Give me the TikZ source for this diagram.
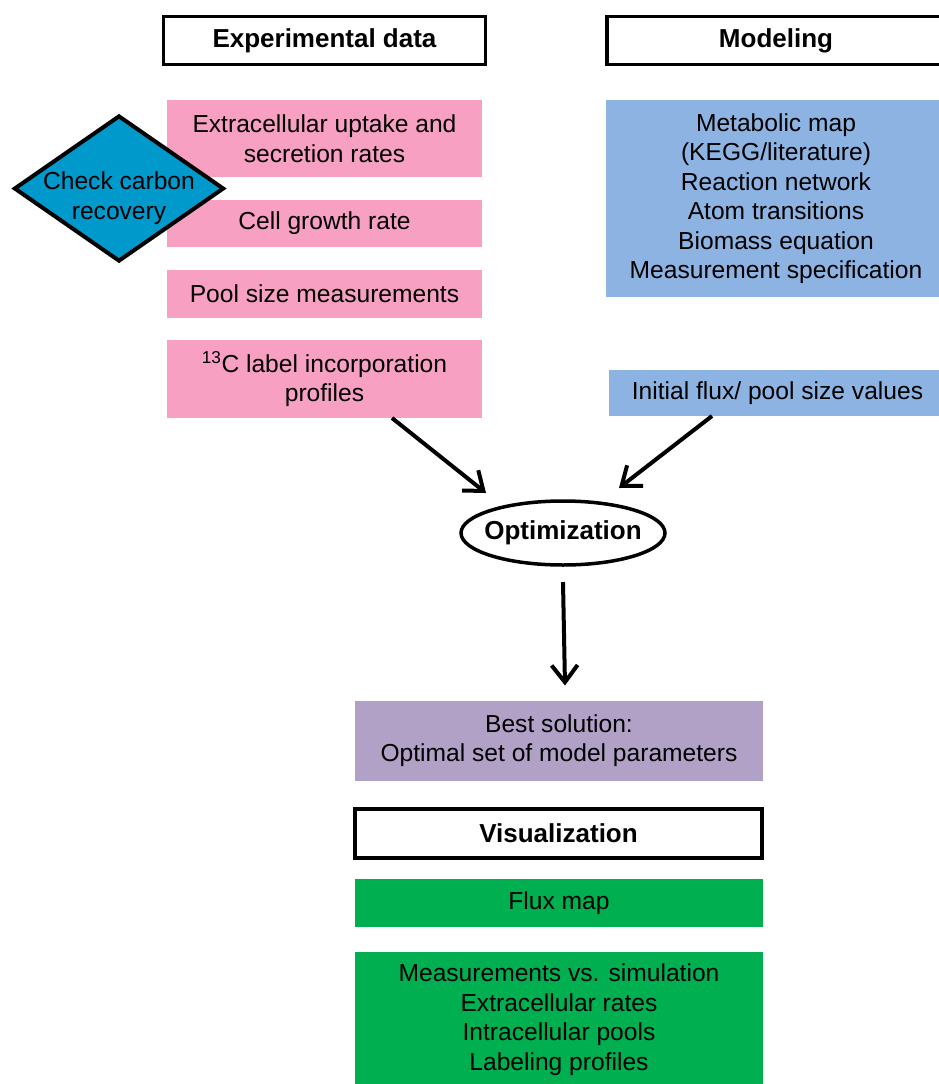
\documentclass[tikz,border=0pt]{standalone}
\usepackage{fontspec}
\setmainfont{Liberation Sans}
\usetikzlibrary{shapes.geometric,arrows.meta}
\definecolor{pinkbox}{HTML}{F8A0C2}
\definecolor{bluebox}{HTML}{8DB3E2}
\definecolor{purplebox}{HTML}{B2A1C7}
\definecolor{greenbox}{HTML}{00B050}
\definecolor{diamblue}{HTML}{0099CC}
\tikzset{
  txt/.style={font=\fontsize{24.6}{29.5}\selectfont, align=center, inner sep=0pt, outer sep=0pt},
  headbox/.style={draw=black, line width=3.5pt, fill=white, inner sep=0pt, outer sep=0pt,
    font=\fontsize{26}{30}\selectfont\bfseries, align=center},
  fillbox/.style={txt, rectangle},
  pinkb/.style={fillbox, fill=pinkbox, minimum width=315pt},
  blueb/.style={fillbox, fill=bluebox},
  greenb/.style={fillbox, fill=greenbox, minimum width=408pt},
  arr/.style={line width=4pt, -{Straight Barb[length=17pt,width=26pt,line width=4pt]}},
}
\begin{document}
\begin{tikzpicture}[x=1pt,y=-1pt]
\useasboundingbox (0,0) rectangle (938,1084);
% headings
\node[headbox, minimum width=322pt, minimum height=48pt] (expd) at (324.5,40.5) {Experimental data};
\node[headbox, minimum width=338pt, minimum height=48pt] (model) at (776,40.5) {Modeling};
% experimental data boxes
\node[pinkb, minimum height=77pt] (ext) at (324.5,138.5) {Extracellular uptake and\\secretion rates};
\node[pinkb, minimum height=47pt] (cell) at (324.5,223.5) {Cell growth rate};
\node[pinkb, minimum height=48pt] (pool) at (324.5,294) {Pool size measurements};
\node[pinkb, minimum height=78pt] (c13) at (324.5,379) {\textsuperscript{13}C label incorporation\\profiles};
% diamond
\node[diamond, draw=black, fill=diamblue, line width=4pt, minimum width=210pt, minimum height=146pt, inner sep=0pt] (diam) at (119,188.5) {};
\node[txt] (diamtxt) at (119,198) {Check carbon\\recovery};
% modeling boxes
\node[blueb, minimum width=340pt, minimum height=197pt] (meta) at (776,198.5) {Metabolic map\\(KEGG/literature)\\Reaction network\\Atom transitions\\Biomass equation\\Measurement specification};
\node[blueb, minimum width=337pt, minimum height=46pt] (init) at (777.5,393) {Initial flux/ pool size values};
% optimization
\node[ellipse, draw=black, line width=3.5pt, fill=white, minimum width=204pt, minimum height=64pt,
  inner xsep=-7pt, inner ysep=0pt, outer sep=0pt,
  font=\fontsize{26}{30}\selectfont\bfseries] (opt) at (563,533) {Optimization};
% results
\node[fillbox, fill=purplebox, minimum width=408pt, minimum height=80pt] (best) at (559,740.5) {Best solution:\\Optimal set of model parameters};
\node[headbox, minimum width=407pt, minimum height=49pt] (vis) at (558.5,833.5) {Visualization};
\node[greenb, minimum height=48pt] (flux) at (559,903) {Flux map};
\node[greenb, minimum height=135pt] (meas) at (559,1019.5) {Measurements vs. simulation\\Extracellular rates\\Intracellular pools\\Labeling profiles};
% arrows
\draw[arr] ([xshift=-90pt]c13.south east) -- ([shift={(-77pt,8pt)}]opt.north);
\draw[arr] ([xshift=103pt]init.south west) -- ([shift={(56pt,13pt)}]opt.north);
\draw[arr] ([yshift=-17pt]opt.south) -- ([shift={(6pt,15pt)}]best.north);
\end{tikzpicture}
\end{document}
